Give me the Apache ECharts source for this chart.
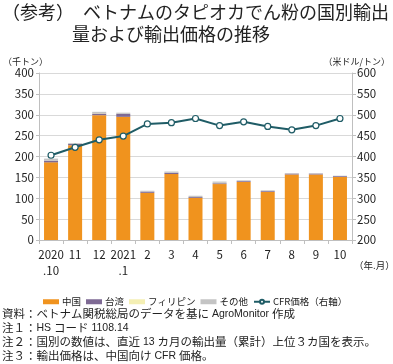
<!DOCTYPE html>
<html><head><meta charset="utf-8">
<script src="https://cdn.jsdelivr.net/npm/echarts@6/dist/echarts.min.js"></script>
<style>html,body{margin:0;padding:0;background:#fff}#c{width:393px;height:364px}</style>
</head><body><div id="c"></div>
<script>
const categories = ['2020\n.10','11','12','2021\n.1','2','3','4','5','6','7','8','9','10'];
const china   = [186, 227, 299, 295, 113, 158, 101, 134, 139, 115, 157, 157, 151];
const taiwan  = [4, 3, 4, 7, 3, 3, 2, 2, 2, 2, 2, 2, 2];
const philippines = [0, 0, 1, 0, 0, 0, 0, 1, 0, 0, 0, 0, 0];
const others  = [5, 2, 3, 3, 2, 3, 3, 3, 2, 2, 1, 1, 1];
const cfrPrice = [403, 422, 440, 449, 478, 481, 491, 474, 483, 472, 464, 474, 491];
const leftTicks = [0, 400, 50];
const rightTicks = [200, 600, 50];

const FONT = '"Noto Sans CJK JP", "Noto Sans", sans-serif';
const LAT = '"Liberation Sans", Arial, sans-serif';
const chart = echarts.init(document.getElementById('c'));
const barCommon = {type:'bar', stack:'v', barWidth: 14, yAxisIndex:0};
const noteRich = {l:{fontFamily:LAT, fontSize:10.5, fill:'#222'}};
function note(top, text){
  return {type:'text', left:2, top:top, style:{text:text, fontSize:11.5, fontFamily:FONT, fill:'#222', rich:noteRich}};
}
chart.setOption({
  animation:false,
  textStyle:{fontFamily:FONT},
  grid:{left:34, right:40, top:73, bottom:124},
  legend:{
    left:38, top:292, itemWidth:16, itemHeight:5, itemGap:5,
    textStyle:{fontSize:9.5, color:'#222', fontFamily:FONT, padding:[0,0,0,-2]},
    data:[
      {name:'中国', icon:'rect'},
      {name:'台湾', icon:'rect'},
      {name:'フィリピン', icon:'rect'},
      {name:'その他', icon:'rect'},
      {name:'CFR価格（右軸）'}
    ]
  },
  xAxis:{
    type:'category', data:categories,
    axisLine:{lineStyle:{color:'#bfbfbf'}},
    axisTick:{show:true, length:4, lineStyle:{color:'#bfbfbf'}},
    axisLabel:{color:'#222', fontSize:11.5, lineHeight:16, margin:7, interval:0, fontFamily:FONT}
  },
  yAxis:[
    {type:'value', min:leftTicks[0], max:leftTicks[1], interval:leftTicks[2],
     name:'（千トン）', nameLocation:'end', nameGap:7,
     nameTextStyle:{fontSize:9, color:'#222', align:'left', padding:[0,0,0,-36]},
     axisLine:{show:true, lineStyle:{color:'#bfbfbf'}},
     axisTick:{show:true, length:3, lineStyle:{color:'#bfbfbf'}},
     axisLabel:{color:'#222', fontSize:11.5, margin:5},
     splitLine:{lineStyle:{color:'#d9d9d9'}}},
    {type:'value', min:rightTicks[0], max:rightTicks[1], interval:rightTicks[2],
     name:'（米ドル/トン）', nameLocation:'end', nameGap:7,
     nameTextStyle:{fontSize:9, color:'#222', align:'right', padding:[0,-38,0,0]},
     axisLine:{show:true, lineStyle:{color:'#bfbfbf'}},
     axisTick:{show:true, length:4, lineStyle:{color:'#bfbfbf'}},
     axisLabel:{color:'#222', fontSize:11.5, margin:5},
     splitLine:{show:false}}
  ],
  series:[
    Object.assign({name:'中国', data:china, itemStyle:{color:'#f0931e'}}, barCommon),
    Object.assign({name:'台湾', data:taiwan, itemStyle:{color:'#7e6a94'}}, barCommon),
    Object.assign({name:'フィリピン', data:philippines, itemStyle:{color:'#f4efb4'}}, barCommon),
    Object.assign({name:'その他', data:others, itemStyle:{color:'#c4c4c4'}}, barCommon),
    {name:'CFR価格（右軸）', type:'line', yAxisIndex:1, data:cfrPrice,
     symbol:'circle', symbolSize:6, showAllSymbol:true,
     lineStyle:{color:'#1f5c66', width:2},
     itemStyle:{color:'#fff', borderColor:'#1f5c66', borderWidth:1.2}}
  ],
  graphic:[
    {type:'text', left:2, top:3, style:{text:'（参考）　ベトナムのタピオカでん粉の国別輸出', fontSize:18, fontFamily:FONT, fill:'#222'}},
    {type:'text', left:72, top:25, style:{text:'量および輸出価格の推移', fontSize:18, fontFamily:FONT, fill:'#222'}},
    {type:'text', left:354, top:261, style:{text:'（年.月）', fontSize:9.5, fontFamily:FONT, fill:'#222'}},
    note(308, '資料：ベトナム関税総局のデータを基に{l| AgroMonitor }作成'),
    note(322, '注１：{l|HS }コード{l| 1108.14}'),
    note(336, '注２：国別の数値は、直近{l| 13 }カ月の輸出量（累計）上位３カ国を表示。'),
    note(350, '注３：輸出価格は、中国向け{l| CFR }価格。')
  ]
});
</script></body></html>
